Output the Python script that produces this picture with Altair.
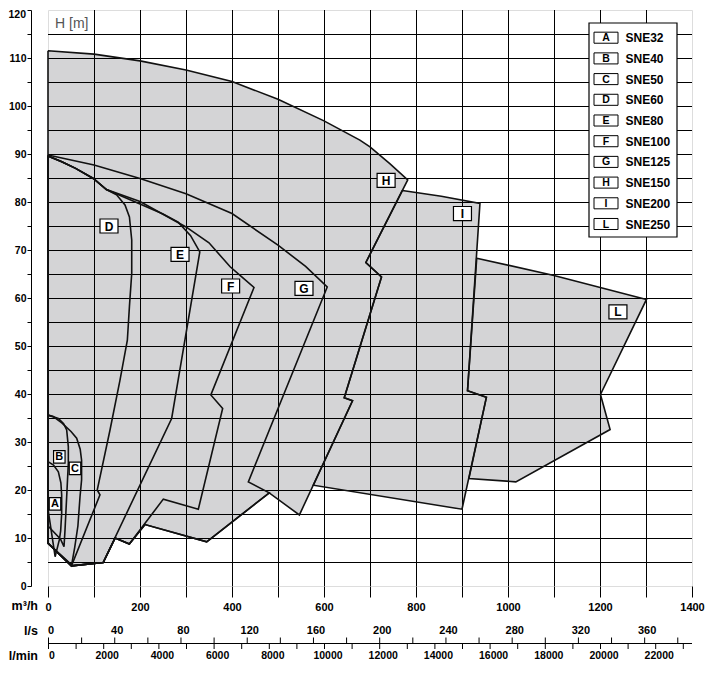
import altair as alt
import pandas as pd

# ---------------- data ----------------
# shared boundary chains  (Q in m3/h, H in m)
TOP_DEF_Q = [0, 30, 60, 98.5, 127]
TOP_DEF_H = [89.6, 88.4, 87.0, 84.9, 82.6]
BASE_Q = [120, 51, 0]
BASE_H = [4.9, 4.2, 8.9]
FBOT_Q = [176.8, 146]
FBOT_H = [8.75, 10.0]
GBOT_Q = [481, 345, 211]
GBOT_H = [19.4, 9.2, 12.8]

A_Q = [0, 12, 22.5, 28, 29.7, 29.7, 27.5, 24.6, 15.5, 0]
A_H = [25.9, 25.2, 23.8, 21.5, 19, 15.1, 11.5, 9.6, 6.1, 16]
B_Q = [0, 22.5, 34, 40.6, 44.2, 44.2, 40.6, 37, 34.8, 27, 0]
B_H = [35.6, 34.9, 33.8, 32.5, 29, 25.6, 18.6, 11.7, 8.2, 9.8, 12.5]
C_Q = [0, 11.5, 30, 50, 62.3, 70, 73, 73, 69.6, 65, 58, 51.4, 0]
C_H = [35.6, 35.3, 34.0, 32.2, 30.8, 28.5, 26.2, 22.1, 18.6, 12.5, 8.0, 4.4, 8.9]
D_R_Q = [149, 167.4, 177, 182, 182, 177, 172.5, 156.5, 134.8, 107, 113, 51, 0]
D_R_H = [81.5, 79.4, 76.9, 72.1, 65.1, 58.2, 51.2, 42.9, 32.5, 20.0, 19.0, 4.2, 8.9]
E_R_Q = [200, 250, 283, 310, 330, 268.8]
E_R_H = [79.6, 77.5, 75.8, 73.0, 69.6, 34.9]
F_R_Q = [200, 300, 350, 396, 420, 447.8, 354, 379.7, 326.8, 250.7]
F_R_H = [80.1, 74.8, 71.5, 66.5, 64.5, 62.2, 39.8, 37.0, 16.0, 18.1]
G_TOP_Q = [0, 100, 200, 300, 400, 500, 560, 607, 435.5]
G_TOP_H = [89.8, 87.7, 84.9, 81.7, 77.6, 71.0, 66.6, 62.3, 21.7]
H_TOP_Q = [0, 100, 200, 300, 400, 500, 600, 678, 700, 743, 782,
           691, 725, 644, 662, 546.5]
H_TOP_H = [111.5, 110.8, 109.4, 107.5, 105.1, 101.4, 96.9, 92.9, 91.5, 88.0, 84.6,
           67.4, 64.4, 39.2, 38.6, 14.8]
I_Q = [770.4, 855, 939, 912, 953, 900, 576.8, 662, 644, 725, 691]
I_H = [82.4, 81.2, 79.7, 40.7, 39.3, 16.0, 21.0, 38.6, 39.2, 64.4, 67.4]
L_Q = [932, 1100, 1301, 1201, 1222, 1017, 915, 953, 912]
L_H = [68.3, 64.7, 59.7, 39.9, 32.6, 21.7, 22.4, 39.3, 40.7]

LETTERS = ["A", "B", "C", "D", "E", "F", "G", "H", "I", "L"]
NAMES = ["SNE32", "SNE40", "SNE50", "SNE60", "SNE80", "SNE100",
         "SNE125", "SNE150", "SNE200", "SNE250"]
LAB_Q = [15.2, 24.6, 58.7, 132.6, 287, 397, 556.5, 735, 901, 1239]
LAB_H = [17.1, 26.9, 24.5, 75.0, 69.1, 62.5, 62.0, 84.5, 77.6, 57.1]

GRID_Q = list(range(100, 1400, 100))
GRID_H = list(range(5, 120, 5))
Y_TOP_LABEL = [120]
LS_TICKS = list(range(0, 381, 20))
LMIN_TICKS = list(range(0, 23001, 1000))
LS_LABELS = list(range(0, 361, 40))
LMIN_LABELS = list(range(0, 22001, 2000))
UNITS = ["m³/h", "l/s", "l/min"]

# ---------------- polygons ----------------
polys = {
    "A": (A_Q, A_H),
    "B": (B_Q, B_H),
    "C": (C_Q, C_H),
    "D": (TOP_DEF_Q + D_R_Q, TOP_DEF_H + D_R_H),
    "E": (TOP_DEF_Q + E_R_Q + BASE_Q, TOP_DEF_H + E_R_H + BASE_H),
    "F": (TOP_DEF_Q + F_R_Q + FBOT_Q + BASE_Q, TOP_DEF_H + F_R_H + FBOT_H + BASE_H),
    "G": (G_TOP_Q + GBOT_Q + FBOT_Q + BASE_Q, G_TOP_H + GBOT_H + FBOT_H + BASE_H),
    "H": (H_TOP_Q + GBOT_Q + FBOT_Q + BASE_Q, H_TOP_H + GBOT_H + FBOT_H + BASE_H),
    "I": (I_Q, I_H),
    "L": (L_Q, L_H),
}
rows = []
for k, (qs, hs) in polys.items():
    n = len(qs)
    for i in range(n + 1):
        rows.append({"pump": k, "i": i, "Q": qs[i % n], "H": hs[i % n]})
poly_df = pd.DataFrame(rows)

lab_df = pd.DataFrame({"letter": LETTERS, "name": NAMES, "Q": LAB_Q, "H": LAB_H})
big_lab = lab_df[~lab_df.letter.isin(["A", "B", "C"])]
small_lab = lab_df[lab_df.letter.isin(["A", "B", "C"])]

SANS = "Liberation Sans, Arial"
GRAY = "#d4d4d6"
W, Hh = 644, 576

xscale = alt.Scale(domain=[0, 1400], nice=False, zero=False)
yscale = alt.Scale(domain=[0, 120], nice=False, zero=False)
xaxis = alt.Axis(values=list(range(0, 1401, 100)),
                 labelExpr="datum.value % 200 == 0 ? format(datum.value, 'd') : ''",
                 grid=False, domain=False, tickSize=11, tickColor="black",
                 labelFont=SANS, labelFontSize=11, labelFontWeight="bold",
                 labelColor="black", labelPadding=4, labelFlush=False,
                 labelOverlap=False, labelBound=False, title=None)
yaxis = alt.Axis(values=list(range(0, 121, 5)),
                 labelExpr="(datum.value % 10 == 0 && datum.value < 120) ? format(datum.value, 'd') : ''",
                 grid=False, offset=17, tickSize=4, tickColor="black",
                 domainColor="black", domainWidth=1,
                 labelFont=SANS, labelFontSize=10.5, labelFontWeight="bold",
                 labelColor="black", labelPadding=1, labelFlush=False,
                 labelOverlap=False, labelBound=False, title=None)
X = alt.X("Q:Q", scale=xscale, axis=xaxis)
Y = alt.Y("H:Q", scale=yscale, axis=yaxis)

fills = alt.Chart(poly_df).mark_line(fill=GRAY, stroke=GRAY, strokeOpacity=0).encode(
    x=X, y=Y, detail="pump:N", order="i:Q")

vgrid = alt.Chart(pd.DataFrame({"Q": GRID_Q})).mark_rule(
    color="black", strokeWidth=1, xOffset=0.5).encode(x=X)
hgrid = alt.Chart(pd.DataFrame({"H": GRID_H})).mark_rule(
    color="black", strokeWidth=1, yOffset=0.5).encode(y=Y)

outlines = alt.Chart(poly_df).mark_line(color="#111", strokeWidth=1.6, strokeJoin="miter").encode(
    x=X, y=Y, detail="pump:N", order="i:Q")

box_big = alt.Chart(big_lab).mark_point(
    shape="M-1,-0.78L1,-0.78L1,0.78L-1,0.78Z", size=324, filled=True,
    fill="white", stroke="black", strokeWidth=1.2, opacity=1).encode(x=X, y=Y)
box_small = alt.Chart(small_lab).mark_point(
    shape="M-0.92,-1L0.92,-1L0.92,1L-0.92,1Z", size=156, filled=True,
    fill="white", stroke="black", strokeWidth=1.2, opacity=1).encode(x=X, y=Y)
txt_big = alt.Chart(big_lab).mark_text(font=SANS, fontWeight="bold", fontSize=12,
                                       color="black", dy=0.5).encode(x=X, y=Y, text="letter:N")
txt_small = alt.Chart(small_lab).mark_text(font=SANS, fontWeight="bold", fontSize=11,
                                           color="black", dy=0.5).encode(x=X, y=Y, text="letter:N")

# top y label (kept inside the page margin)
top_lab = alt.Chart(pd.DataFrame({"H": Y_TOP_LABEL})).mark_text(
    font=SANS, fontWeight="bold", fontSize=10.5, color="black",
    align="right", baseline="middle", dy=5).encode(
    x=alt.value(-22), y=Y, text=alt.Text("H:Q", format="d"))

# H [m] caption
hm = alt.Chart(pd.DataFrame({"t": ["H [m]"]})).mark_text(
    font=SANS, fontSize=14, color="#555555", align="left", baseline="middle").encode(
    x=alt.value(7), y=alt.value(14), text="t:N")

# legend
leg_frame = alt.Chart(pd.DataFrame({"t": [0]})).mark_rect(
    fill="white", stroke="black", strokeWidth=1.2).encode(
    x=alt.value(541), x2=alt.value(629), y=alt.value(13), y2=alt.value(227))
leg_base = alt.Chart(lab_df).transform_window(row="row_number()").transform_calculate(
    py="27.7 + 20.7 * (datum.row - 1)")
leg_box = leg_base.mark_point(
    shape="M-1,-0.46L1,-0.46L1,0.46L-1,0.46Z", size=576, filled=True,
    fill="white", stroke="black", strokeWidth=1, opacity=1).encode(
    x=alt.value(558), y=alt.Y("py:Q", scale=None, axis=None))
leg_letter = leg_base.mark_text(font=SANS, fontWeight="bold", fontSize=10.5, color="black",
                                dy=0.5).encode(
    x=alt.value(558), y=alt.Y("py:Q", scale=None, axis=None), text="letter:N")
leg_name = leg_base.mark_text(font=SANS, fontWeight="bold", fontSize=12, color="black",
                              align="left", dy=0.5).encode(
    x=alt.value(577.5), y=alt.Y("py:Q", scale=None, axis=None), text="name:N")

# secondary flow axes (l/s above line, l/min below)
sec_line = alt.Chart(pd.DataFrame({"t": [0]})).mark_rule(color="black", strokeWidth=1).encode(
    x=alt.value(0), x2=alt.value(W), y=alt.value(633.5))
ls_ticks = alt.Chart(pd.DataFrame({"v": LS_TICKS})).transform_calculate(
    Q="datum.v * 3.6").mark_rule(color="black", strokeWidth=1, xOffset=0.5).encode(
    x=X, y=alt.value(627.5), y2=alt.value(633.5))
lmin_ticks = alt.Chart(pd.DataFrame({"v": LMIN_TICKS})).transform_calculate(
    Q="datum.v * 0.06").mark_rule(color="black", strokeWidth=1, xOffset=0.5).encode(
    x=X, y=alt.value(633.5), y2=alt.value(639))
ls_lab = alt.Chart(pd.DataFrame({"v": LS_LABELS})).transform_calculate(
    Q="datum.v * 3.6").mark_text(font=SANS, fontWeight="bold", fontSize=11,
                                 color="black", dx=3, baseline="middle").encode(
    x=X, y=alt.value(621), text="v:Q")
lmin_lab = alt.Chart(pd.DataFrame({"v": LMIN_LABELS})).transform_calculate(
    Q="datum.v * 0.06").mark_text(font=SANS, fontWeight="bold", fontSize=10.5,
                                  color="black", dx=4, baseline="middle").encode(
    x=X, y=alt.value(646), text="v:Q")
unit_lab = alt.Chart(pd.DataFrame({"t": UNITS})).transform_window(
    row="row_number()").transform_calculate(py="571 + 25 * datum.row").mark_text(
    font=SANS, fontWeight="bold", fontSize=12.5, color="black",
    align="right", baseline="middle").encode(
    x=alt.value(-10), y=alt.Y("py:Q", scale=None, axis=None), text="t:N")

chart = alt.layer(
    fills, vgrid, hgrid, outlines,
    box_big, box_small, txt_big, txt_small, top_lab, hm,
    leg_frame, leg_box, leg_letter, leg_name,
    sec_line, ls_ticks, lmin_ticks, ls_lab, lmin_lab, unit_lab,
).properties(
    width=W, height=Hh,
    autosize=alt.AutoSizeParams(type="none"),
    padding={"left": 40, "top": 2, "right": 20, "bottom": 86},
).configure_view(stroke="black", strokeWidth=2).configure(background="white")

chart.save("out.html", embed_options={"renderer": "svg", "actions": False})
